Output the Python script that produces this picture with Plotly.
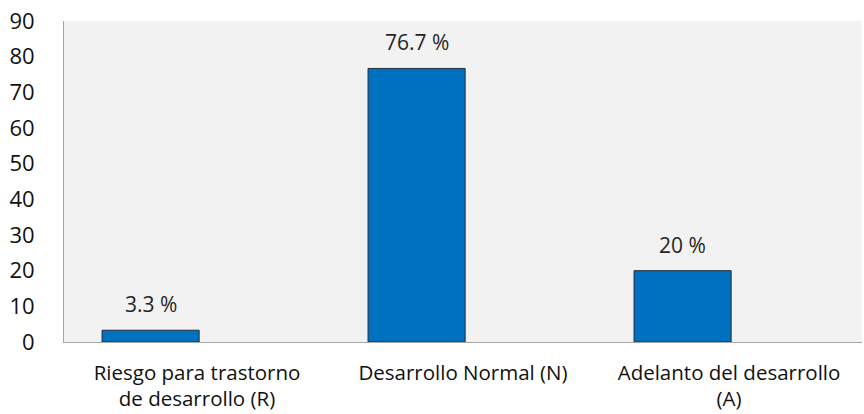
import plotly.graph_objects as go

categories = [
    "Riesgo para trastorno<br>de desarrollo (R)",
    "Desarrollo Normal (N)",
    "Adelanto del desarrollo<br>(A)",
]
values = [3.3, 76.7, 20]
y_ticks = [0, 10, 20, 30, 40, 50, 60, 70, 80, 90]

FONT = "Open Sans, Noto Sans, sans-serif"
BAR_OFFSET = -0.357   # bar starts left of the category centre
BAR_WIDTH = 0.365

positions = list(range(len(categories)))

fig = go.Figure()
fig.add_trace(go.Bar(
    x=positions,
    y=values,
    offset=BAR_OFFSET,
    width=BAR_WIDTH,
    marker=dict(color="#0070C0", line=dict(color="#1f2d3a", width=1)),
    hoverinfo="skip",
))

for p, v in zip(positions, values):
    fig.add_annotation(
        x=p + BAR_OFFSET + BAR_WIDTH / 2, y=v,
        text=f"{v} %", showarrow=False,
        yanchor="bottom", yshift=10,
        font=dict(family=FONT, size=21, color="#262626"),
    )

fig.update_layout(
    width=864, height=414,
    margin=dict(l=64, r=2, t=21, b=72, autoexpand=False),
    paper_bgcolor="white",
    plot_bgcolor="#f2f2f2",
    showlegend=False,
    font=dict(family=FONT, size=20, color="#111111"),
)
fig.update_xaxes(
    range=[-0.5, 2.5],
    tickvals=positions, ticktext=categories,
    showgrid=False, zeroline=False,
    showline=True, linecolor="#a6a6a6", linewidth=1,
    ticks="", tickfont=dict(size=20.5, color="#111111"),
    ticklabelstandoff=12, automargin=False,
)
fig.update_yaxes(
    range=[0, 90],
    tickvals=y_ticks,
    showgrid=False, zeroline=False,
    showline=True, linecolor="#a6a6a6", linewidth=1,
    ticks="", tickfont=dict(size=22, color="#111111"),
    ticklabelstandoff=24, automargin=False,
)

fig.write_html("out.html")
